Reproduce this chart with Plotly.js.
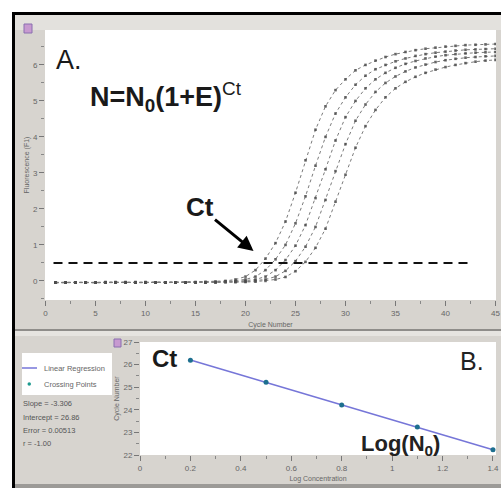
<!DOCTYPE html>
<html>
<head>
<meta charset="utf-8">
<script src="https://cdn.plot.ly/plotly-3.0.1.min.js"></script>
<style>
html,body{margin:0;padding:0;background:#fff;}
#chart{width:501px;height:488px;}
</style>
</head>
<body>
<div id="chart"></div>
<script>
// ---------- data ----------
const cycles = [1,2,3,4,5,6,7,8,9,10,11,12,13,14,15,16,17,18,19,20,21,22,23,24,25,26,27,28,29,30,31,32,33,34,35,36,37,38,39,40,41,42,43,44,45];
const curve1 = [-0.05,-0.04,-0.05,-0.04,-0.05,-0.04,-0.03,-0.04,-0.05,-0.04,-0.04,-0.05,-0.04,-0.04,-0.03,-0.03,-0.02,0.00,0.04,0.12,0.30,0.62,1.05,1.65,2.45,3.35,4.20,4.85,5.30,5.60,5.85,6.00,6.12,6.22,6.30,6.36,6.41,6.45,6.48,6.51,6.53,6.55,6.56,6.57,6.58];
const curve2 = [-0.04,-0.05,-0.04,-0.04,-0.05,-0.03,-0.04,-0.04,-0.05,-0.05,-0.04,-0.04,-0.05,-0.04,-0.04,-0.03,-0.03,-0.02,0.00,0.04,0.12,0.30,0.60,1.00,1.60,2.35,3.20,4.00,4.65,5.10,5.45,5.70,5.88,6.00,6.10,6.18,6.25,6.30,6.34,6.37,6.40,6.42,6.43,6.44,6.45];
const curve3 = [-0.05,-0.05,-0.04,-0.05,-0.04,-0.04,-0.05,-0.03,-0.04,-0.04,-0.05,-0.04,-0.04,-0.05,-0.04,-0.04,-0.03,-0.03,-0.02,0.00,0.04,0.12,0.30,0.58,0.98,1.55,2.30,3.10,3.90,4.55,5.00,5.35,5.60,5.78,5.92,6.03,6.11,6.18,6.23,6.27,6.30,6.32,6.34,6.35,6.36];
const curve4 = [-0.04,-0.04,-0.05,-0.05,-0.04,-0.05,-0.04,-0.04,-0.03,-0.05,-0.04,-0.05,-0.04,-0.04,-0.04,-0.05,-0.04,-0.03,-0.03,-0.02,0.00,0.04,0.12,0.28,0.55,0.95,1.50,2.25,3.05,3.80,4.45,4.90,5.25,5.50,5.68,5.82,5.93,6.01,6.08,6.13,6.17,6.20,6.22,6.24,6.25];
const curve5 = [-0.05,-0.04,-0.04,-0.05,-0.05,-0.04,-0.04,-0.05,-0.04,-0.03,-0.04,-0.04,-0.05,-0.05,-0.04,-0.04,-0.04,-0.03,-0.03,-0.03,-0.02,0.00,0.04,0.11,0.27,0.53,0.92,1.45,2.20,2.95,3.70,4.30,4.75,5.10,5.35,5.53,5.67,5.78,5.87,5.94,6.00,6.05,6.09,6.12,6.14];
const thresholdX = [0.8, 42.8];
const thresholdY = [0.5, 0.5];

const logConc = [0.2, 0.5, 0.8, 1.1, 1.4];
const crossingPoints = [26.19, 25.22, 24.21, 23.24, 22.23];
const regressionX = [0.2, 1.4];
const regressionY = [26.20, 22.23];

const topXTicks = [0,5,10,15,20,25,30,35,40,45];
const topYTicks = [0,1,2,3,4,5,6];
const botXTicks = [0,0.2,0.4,0.6,0.8,1,1.2,1.4];
const botXLabels = ['0','0.2','0.4','0.6','0.8','1','1.2','1.4'];
const botYTicks = [22,23,24,25,26,27];
const statsLines = ['Slope = -3.306','Intercept = 26.86','Error = 0.00513','r = -1.00'];

// ---------- layout helpers (pixel -> paper) ----------
const W = 501, H = 488;
const PX = x => x / W;
const PY = y => 1 - y / H;

const curveStyle = {
  mode: 'lines+markers',
  line: {color: '#7a7a7a', width: 1, dash: 'dot'},
  marker: {symbol: 'square', size: 2.6, color: '#4a4a4a', opacity: 0.85},
  xaxis: 'x', yaxis: 'y', showlegend: false, hoverinfo: 'skip'
};
const curves = [curve1, curve2, curve3, curve4, curve5];
const traces = curves.map(c => Object.assign({x: cycles, y: c}, curveStyle));

traces.push({
  x: thresholdX, y: thresholdY, mode: 'lines', xaxis: 'x', yaxis: 'y',
  line: {color: '#111', width: 2, dash: '9px,6px'}, showlegend: false, hoverinfo: 'skip'
});
traces.push({
  x: regressionX, y: regressionY, mode: 'lines', xaxis: 'x2', yaxis: 'y2',
  line: {color: '#7676d8', width: 1.5}, showlegend: false, name: 'Linear Regression'
});
traces.push({
  x: logConc, y: crossingPoints, mode: 'markers', xaxis: 'x2', yaxis: 'y2',
  marker: {color: '#1d6f8f', size: 5}, showlegend: false, name: 'Crossing Points'
});

const FAM = 'Liberation Sans, Arial, sans-serif';
const tickFont = {family: FAM, size: 8, color: '#666'};
const titleFont = {family: FAM, size: 7, color: '#666'};
const smallFont = c => ({family: FAM, size: 7.5, color: c});
const bigFont = (s, c) => ({family: FAM, size: s, color: c || '#1a1a1a'});

const layout = {
  width: W, height: H,
  margin: {l: 0, r: 0, t: 0, b: 0, pad: 0},
  paper_bgcolor: '#d7d4cf',
  plot_bgcolor: '#ffffff',
  showlegend: false,
  xaxis: {
    domain: [PX(45), PX(496)], anchor: 'y', range: [-0.05, 45.05],
    tickvals: topXTicks, ticks: 'outside', ticklen: 5, tickwidth: 1, tickcolor: '#777',
    minor: {dtick: 2.5, tick0: 0, ticks: 'outside', ticklen: 3, tickcolor: '#888', showgrid: false},
    showgrid: false, zeroline: false, showline: false, tickfont: tickFont,
    title: {text: 'Cycle Number', font: titleFont, standoff: 5}, automargin: false, fixedrange: true
  },
  yaxis: {
    domain: [PY(300), PY(30)], anchor: 'x', range: [-0.53, 6.97],
    tickvals: topYTicks, ticks: 'outside', ticklen: 5, tickwidth: 1, tickcolor: '#777',
    minor: {dtick: 0.5, tick0: 0, ticks: 'outside', ticklen: 3, tickcolor: '#888', showgrid: false},
    showgrid: false, zeroline: false, showline: false, tickfont: tickFont,
    title: {text: 'Fluorescence (F1)', font: titleFont, standoff: 2}, automargin: false, fixedrange: true
  },
  xaxis2: {
    domain: [PX(140), PX(496)], anchor: 'y2', range: [0, 1.412],
    tickvals: botXTicks, ticktext: botXLabels, ticks: 'outside', ticklen: 5, tickwidth: 1, tickcolor: '#777',
    minor: {dtick: 0.1, tick0: 0, ticks: 'outside', ticklen: 3, tickcolor: '#888', showgrid: false},
    showgrid: false, zeroline: false, showline: false, tickfont: tickFont,
    title: {text: 'Log Concentration', font: titleFont, standoff: 4}, automargin: false, fixedrange: true
  },
  yaxis2: {
    domain: [PY(455), PY(342)], anchor: 'x2', range: [22, 27],
    tickvals: botYTicks, ticks: 'outside', ticklen: 5, tickwidth: 1, tickcolor: '#777',
    minor: {dtick: 0.5, tick0: 0, ticks: 'outside', ticklen: 3, tickcolor: '#888', showgrid: false},
    showgrid: false, zeroline: false, showline: false, tickfont: tickFont,
    title: {text: 'Cycle Number', font: titleFont, standoff: 3}, automargin: false, fixedrange: true
  },
  shapes: [
    // white outer margin
    {type: 'rect', xref: 'paper', yref: 'paper', x0: PX(0), x1: PX(501), y0: PY(0), y1: PY(12), fillcolor: '#fff', line: {width: 0}, layer: 'below'},
    {type: 'rect', xref: 'paper', yref: 'paper', x0: PX(0), x1: PX(12), y0: PY(0), y1: PY(488), fillcolor: '#fff', line: {width: 0}, layer: 'below'},
    // light strip at top of panel A
    {type: 'rect', xref: 'paper', yref: 'paper', x0: PX(14), x1: PX(501), y0: PY(15), y1: PY(30), fillcolor: '#e3e1dd', line: {width: 0}, layer: 'below'},
    // divider between panels
    {type: 'rect', xref: 'paper', yref: 'paper', x0: PX(14), x1: PX(501), y0: PY(329), y1: PY(331), fillcolor: '#8f8d8a', line: {width: 0}, layer: 'below'},
    {type: 'rect', xref: 'paper', yref: 'paper', x0: PX(14), x1: PX(501), y0: PY(331), y1: PY(336), fillcolor: '#e6e4e0', line: {width: 0}, layer: 'below'},
    // bottom edge
    {type: 'rect', xref: 'paper', yref: 'paper', x0: PX(14), x1: PX(501), y0: PY(484), y1: PY(488), fillcolor: '#9c9a97', line: {width: 0}, layer: 'below'},
    // legend box
    {type: 'rect', xref: 'paper', yref: 'paper', x0: PX(22), x1: PX(112), y0: PY(353), y1: PY(395), fillcolor: '#fff', line: {width: 0}, layer: 'below'},
    {type: 'line', xref: 'paper', yref: 'paper', x0: PX(22), x1: PX(37), y0: PY(368), y1: PY(368), line: {color: '#7676d8', width: 1.5}},
    {type: 'circle', xref: 'paper', yref: 'paper', x0: PX(27.5), x1: PX(31), y0: PY(382.3), y1: PY(385.8), fillcolor: '#1d9a8f', line: {width: 0}},
    // small window icons
    {type: 'rect', xref: 'paper', yref: 'paper', x0: PX(24), x1: PX(32), y0: PY(24), y1: PY(33), fillcolor: '#c79ad0', line: {color: '#8a6fb0', width: 1}},
    {type: 'rect', xref: 'paper', yref: 'paper', x0: PX(114), x1: PX(121), y0: PY(339), y1: PY(347), fillcolor: '#c79ad0', line: {color: '#8a6fb0', width: 1}},
    // black frame
    {type: 'line', xref: 'paper', yref: 'paper', x0: PX(12), x1: PX(501), y0: PY(13.5), y1: PY(13.5), line: {color: '#000', width: 3}},
    {type: 'line', xref: 'paper', yref: 'paper', x0: PX(13.5), x1: PX(13.5), y0: PY(12), y1: PY(488), line: {color: '#000', width: 3}}
  ],
  annotations: [
    {xref: 'paper', yref: 'paper', x: PX(54), y: PY(60), xanchor: 'left', yanchor: 'middle', showarrow: false,
     text: 'A.', font: bigFont(27)},
    {xref: 'paper', yref: 'paper', x: PX(88), y: PY(97), xanchor: 'left', yanchor: 'middle', showarrow: false,
     text: '<b>N=N<sub>0</sub>(1+E)</b><sup>Ct</sup>', font: bigFont(27)},
    {xref: 'x', yref: 'y', x: 20.8, y: 0.83, ax: -54, ay: -44, showarrow: true,
     text: '<b>Ct</b>', font: bigFont(26), standoff: 0, startstandoff: 0,
     arrowhead: 2, arrowsize: 1, arrowwidth: 3, arrowcolor: '#000'},
    {xref: 'paper', yref: 'paper', x: PX(164), y: PY(358), xanchor: 'center', yanchor: 'middle', showarrow: false,
     text: '<b>Ct</b>', font: bigFont(24)},
    {xref: 'paper', yref: 'paper', x: PX(472), y: PY(361), xanchor: 'center', yanchor: 'middle', showarrow: false,
     text: 'B.', font: bigFont(25, '#222')},
    {xref: 'paper', yref: 'paper', x: PX(400), y: PY(445), xanchor: 'center', yanchor: 'middle', showarrow: false,
     text: '<b>Log(N<sub>0</sub>)</b>', font: bigFont(22, '#222')},
    {xref: 'paper', yref: 'paper', x: PX(42), y: PY(368), xanchor: 'left', yanchor: 'middle', showarrow: false,
     text: 'Linear Regression', font: smallFont('#666')},
    {xref: 'paper', yref: 'paper', x: PX(42), y: PY(384), xanchor: 'left', yanchor: 'middle', showarrow: false,
     text: 'Crossing Points', font: smallFont('#666')},
    {xref: 'paper', yref: 'paper', x: PX(21), y: PY(403), xanchor: 'left', yanchor: 'middle', showarrow: false,
     text: statsLines[0], font: smallFont('#555')},
    {xref: 'paper', yref: 'paper', x: PX(21), y: PY(417), xanchor: 'left', yanchor: 'middle', showarrow: false,
     text: statsLines[1], font: smallFont('#555')},
    {xref: 'paper', yref: 'paper', x: PX(21), y: PY(430), xanchor: 'left', yanchor: 'middle', showarrow: false,
     text: statsLines[2], font: smallFont('#555')},
    {xref: 'paper', yref: 'paper', x: PX(21), y: PY(443), xanchor: 'left', yanchor: 'middle', showarrow: false,
     text: statsLines[3], font: smallFont('#555')}
  ]
};

Plotly.newPlot('chart', traces, layout, {staticPlot: true, displayModeBar: false});
</script>
</body>
</html>
